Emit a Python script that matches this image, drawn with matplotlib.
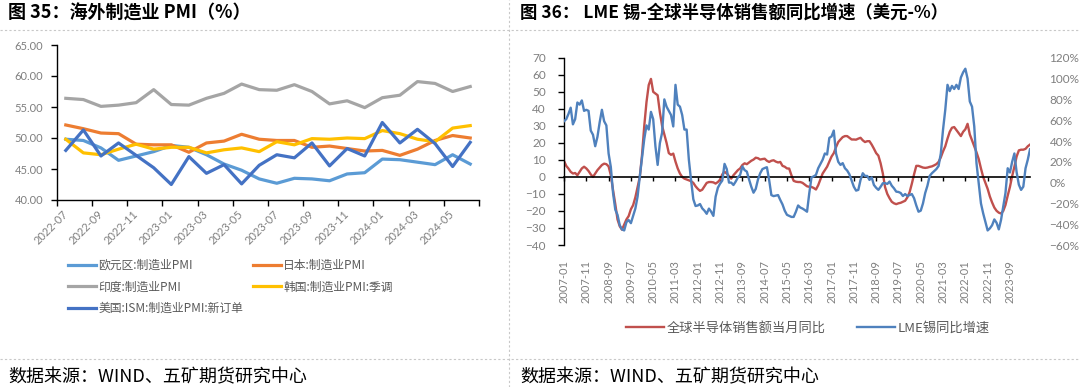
import numpy as np
import pandas as pd
import matplotlib
matplotlib.use("Agg")
import matplotlib.pyplot as plt
from matplotlib.lines import Line2D
from matplotlib.ticker import FormatStrFormatter, PercentFormatter

plt.rcParams['font.family'] = ['Noto Sans CJK SC', 'DejaVu Sans']

# ---- 图35 海外制造业PMI ----
pmi_months = ['2022-07', '2022-08', '2022-09', '2022-10', '2022-11', '2022-12',
              '2023-01', '2023-02', '2023-03', '2023-04', '2023-05', '2023-06',
              '2023-07', '2023-08', '2023-09', '2023-10', '2023-11', '2023-12',
              '2024-01', '2024-02', '2024-03', '2024-04', '2024-05', '2024-06']
euro_pmi = [49.8, 49.6, 48.4, 46.4, 47.1, 47.8, 48.8, 48.5, 47.3, 45.8, 44.8, 43.4,
            42.7, 43.5, 43.4, 43.1, 44.2, 44.4, 46.6, 46.5, 46.1, 45.7, 47.3, 45.8]
japan_pmi = [52.1, 51.5, 50.8, 50.7, 49.0, 48.9, 48.9, 47.7, 49.2, 49.5, 50.6, 49.8,
             49.6, 49.6, 48.5, 48.7, 48.3, 47.9, 48.0, 47.2, 48.2, 49.6, 50.4, 50.0]
india_pmi = [56.4, 56.2, 55.1, 55.3, 55.7, 57.8, 55.4, 55.3, 56.4, 57.2, 58.7, 57.8,
             57.7, 58.6, 57.5, 55.5, 56.0, 54.9, 56.5, 56.9, 59.1, 58.8, 57.5, 58.3]
korea_pmi = [49.8, 47.6, 47.3, 48.2, 49.0, 48.2, 48.5, 48.5, 47.6, 48.1, 48.4, 47.8,
             49.4, 48.9, 49.9, 49.8, 50.0, 49.9, 51.2, 50.7, 49.8, 49.4, 51.6, 52.0]
us_new_orders = [48.0, 51.3, 47.1, 49.2, 47.2, 45.2, 42.5, 47.0, 44.3, 45.7, 42.6, 45.6,
                 47.3, 46.8, 49.2, 45.5, 48.3, 47.1, 52.5, 49.2, 51.4, 49.1, 45.4, 49.3]
pmi_names = ['欧元区:制造业PMI', '日本:制造业PMI', '印度:制造业PMI',
             '韩国:制造业PMI:季调', '美国:ISM:制造业PMI:新订单']
pmi_colors = ['#5B9BD5', '#ED7D31', '#A5A5A5', '#FFC000', '#4472C4']

# ---- 图36 LME锡 vs 全球半导体销售额 ----
# 月度, 2007-01 起
semi_yoy = [
    9.4, 6.5, 4.9, 3.0, 2.0, 2.3, 1.0, 3.0, 5.0, 6.0, 5.0, 3.5,
    1.5, 0.0, 2.0, 4.0, 5.5, 7.0, 7.8, 7.5, 6.2, 1.0, -7.8, -16.0,
    -25.0, -29.0, -31.0, -28.0, -25.0, -23.0, -19.0, -16.6, -12.0, -6.0, 0.0, 13.0,
    30.0, 44.0, 54.0, 57.6, 50.0, 49.0, 48.0, 38.0, 30.0, 25.0, 20.0, 14.0,
    13.0, 13.7, 9.0, 5.0, 2.0, 0.0, -1.0, -1.5, -2.0, -2.5, -3.5, -5.5,
    -7.0, -8.2, -7.5, -5.5, -3.5, -3.0, -3.0, -3.2, -3.9, -3.0, -1.6, 1.5,
    3.0, 2.0, 0.5, -1.0, 1.0, 2.5, 4.0, 5.0, 7.0, 8.0, 7.5, 8.5,
    9.5, 10.2, 11.3, 11.0, 10.2, 10.5, 10.7, 9.5, 8.8, 9.5, 9.8, 9.0,
    8.5, 8.8, 6.5, 6.0, 5.0, 4.9, 1.0, -2.3, -2.8, -3.0, -3.0, -3.5,
    -4.5, -5.5, -5.8, -5.9, -6.5, -7.4, -4.9, -1.5, 2.0, 4.0, 6.0, 9.0,
    12.0, 14.0, 17.5, 20.5, 22.0, 23.4, 24.0, 24.0, 23.0, 22.0, 22.0, 21.9,
    22.5, 23.0, 21.5, 20.5, 21.0, 21.0, 19.0, 16.6, 14.0, 12.5, 8.0, 2.0,
    -6.0, -10.0, -12.5, -14.6, -15.5, -16.0, -15.5, -15.2, -14.6, -14.0, -12.0, -9.0,
    -4.0, 1.5, 6.5, 6.5, 6.0, 5.5, 5.3, 5.5, 5.9, 6.2, 6.8, 7.5,
    8.8, 11.5, 15.0, 18.0, 22.5, 26.5, 28.9, 29.3, 27.5, 25.8, 24.0, 26.5,
    28.0, 31.2, 25.0, 21.5, 18.0, 14.5, 10.5, 5.0, 0.0, -3.5, -7.0, -11.5,
    -15.0, -18.0, -19.9, -21.0, -21.5, -20.0, -16.5, -11.0, -5.9, 0.5, 6.0, 12.0,
    15.6, 16.0, 16.0, 16.5, 18.0, 19.0]
tin_yoy = [
    59, 61, 66, 72, 56, 61, 77, 75, 79, 69, 70, 69,
    50, 46, 35, 44, 58, 70, 59, 55, 28, 15, -10, -26,
    -31, -41, -45, -46, -38, -36, -39, -32, -25, -13.5, 6, 24,
    42, 55, 51, 68, 61, 35, 17, 38, 48, 80, 73, 69,
    65, 54, 94, 75, 73, 65, 51, 51, 22, 2, -16, -22.5,
    -22, -20.6, -24.8, -27, -30, -25, -28, -32, -13.5, -5, -1, 2,
    18, 13, 0, 0, -2.3, 1, 5, 7.5, 15.5, 12, 10.6, 3,
    -4, -9.7, -6, 3, 9, 13, 14, 14.8, 2.6, -12, -13, -12.5,
    -12, -16.7, -21, -27, -31, -32, -33, -33, -28, -22, -24, -25,
    -26.4, -28, -10.3, 5, 6, 7.4, 13.8, 18, 22, 28, 27, 43,
    44.4, 50, 28, 20, 17, 18.7, 13.8, 11.6, 8, 2, -4, -7.7,
    -7, 2.6, 9, 6.4, 6.4, 2.6, 5, -2.3, -5, -7, -4, -0.6,
    -0.5, -1.3, 1, -3, -5.5, -8.7, -9, -10, -12.9, -11, -12.9, -12,
    -11, -15, -22, -28, -27, -20, -10, -3, 6.4, 9, 11, 13,
    16, 28, 51, 70, 94, 88, 93, 90, 94, 90, 101, 106,
    109.5, 100, 78, 73, 54, 18.7, -0.6, -20, -29.6, -37.7, -46, -44,
    -41, -35.4, -38.6, -45, -36, -23, -10, 13.8, 9.7, 20, 28, 10,
    -2, -7, -3.9, 13.8, 22, 32]
chip_months = pd.date_range('2007-01-01', periods=len(semi_yoy), freq='MS').strftime('%Y-%m')
chip_names = ['全球半导体销售额当月同比', 'LME锡同比增速']

W, H = 1080, 387
GRAY = '#7F7F7F'
TXT = '#595959'


def box(x0, y0, x1, y1):
    # pixel box (top-left origin) -> figure rect
    return [x0 / W, 1 - y1 / H, (x1 - x0) / W, (y1 - y0) / H]


fig = plt.figure(figsize=(W / 100, H / 100), dpi=100)

# ---------------- left chart ----------------
ax1 = fig.add_axes(box(57, 45, 479, 200))
x = np.arange(len(pmi_months))
for vals, name, color in zip([euro_pmi, japan_pmi, india_pmi, korea_pmi, us_new_orders],
                             pmi_names, pmi_colors):
    ax1.plot(x, vals, color=color, lw=2.3, label=name, solid_joinstyle='round')
ax1.set_xlim(-0.5, len(x) - 0.5)
ax1.set_ylim(40, 65)
ax1.set_yticks(np.arange(40, 66, 5))
ax1.yaxis.set_major_formatter(FormatStrFormatter('%.2f'))
for s in ['top', 'right']:
    ax1.spines[s].set_visible(False)
for s in ['left', 'bottom']:
    ax1.spines[s].set_color('black')
    ax1.spines[s].set_linewidth(1.0)
ax1.set_xticks(np.arange(-0.5, len(x), 2))
ax1.set_xticks(x[::2], labels=pmi_months[::2], minor=True, rotation=45,
               ha='right', va='center', rotation_mode='anchor')
ax1.tick_params(axis='x', which='major', length=4, width=1, labelbottom=False)
ax1.tick_params(axis='x', which='minor', length=0, pad=9, labelsize=8, labelcolor=GRAY)
ax1.tick_params(axis='y', length=4, width=1, pad=6, labelsize=8, labelcolor=GRAY)
for lab in ax1.get_yticklabels():
    lab.set_family(['Lato', 'DejaVu Sans'])
for lab in ax1.get_xticklabels(minor=True):
    lab.set_family(['Lato', 'DejaVu Sans'])

h = ax1.get_lines()
leg_kw = dict(frameon=False, fontsize=8.5, handlelength=2.4, handletextpad=0.15,
              borderpad=0, borderaxespad=0, labelspacing=0.72, labelcolor=TXT, loc='upper left')
fig.legend([h[0], h[2], h[4]], [pmi_names[0], pmi_names[2], pmi_names[4]],
           bbox_to_anchor=(68 / W, 1 - 259 / H), **leg_kw)
fig.legend([h[1], h[3]], [pmi_names[1], pmi_names[3]],
           bbox_to_anchor=(253 / W, 1 - 259 / H), **leg_kw)

# ---------------- right chart ----------------
ax2 = fig.add_axes(box(564, 57.8, 1030, 245))
m = np.arange(len(semi_yoy))
l1, = ax2.plot(m, semi_yoy, color='#C0504D', lw=1.7, solid_joinstyle='round')
ax2.set_xlim(0, len(m) - 1)
ax2.set_ylim(-40, 70)
ax2.set_yticks(np.arange(-40, 71, 10))
for s in ['top', 'right']:
    ax2.spines[s].set_visible(False)
ax2.spines['bottom'].set_position(('data', 0))
ax2.spines['bottom'].set_linewidth(1.2)
ax2.spines['left'].set_linewidth(1.0)
ticks = m[::10]
ax2.set_xticks(ticks)
ax2.tick_params(axis='x', length=3, width=1, labelbottom=False)
ax2.tick_params(axis='y', length=4, width=1, pad=9, labelsize=8.5, labelcolor=GRAY)
sec = ax2.secondary_xaxis('bottom')
sec.set_xticks(ticks, labels=[chip_months[i] for i in ticks], rotation=90)
sec.tick_params(length=0, pad=11, labelsize=8, labelcolor=GRAY)
sec.spines['bottom'].set_visible(False)
for lab in ax2.get_yticklabels() + sec.get_xticklabels():
    lab.set_family(['Lato', 'DejaVu Sans'])

ax3 = ax2.twinx()
l2, = ax3.plot(m, tin_yoy, color='#4F81BD', lw=1.7, solid_joinstyle='round')
ax3.set_ylim(-60, 120)
ax3.set_yticks(np.arange(-60, 121, 20))
ax3.yaxis.set_major_formatter(PercentFormatter(decimals=0))
for s in ax3.spines.values():
    s.set_visible(False)
ax3.tick_params(axis='y', length=0, pad=14, labelsize=8.5, labelcolor=GRAY)
for lab in ax3.get_yticklabels():
    lab.set_family(['Lato', 'DejaVu Sans'])

leg_kw2 = dict(leg_kw, fontsize=9.5, handlelength=2.9)
fig.legend([l1], [chip_names[0]], bbox_to_anchor=(626 / W, 1 - 322 / H), **leg_kw2)
fig.legend([l2], [chip_names[1]], bbox_to_anchor=(857 / W, 1 - 322 / H), **leg_kw2)

# ---------------- titles, sources, separators ----------------
fig.text(8 / W, 1 - 13 / H, '图 35：海外制造业 PMI（%）', fontsize=13, weight='bold',
         va='center', color='black')
fig.text(520 / W, 1 - 13 / H, '图 36： LME 锡-全球半导体销售额同比增速（美元-%）', fontsize=12.5,
         weight='bold', va='center', color='black')
fig.text(8 / W, 1 - 377 / H, '数据来源：WIND、五矿期货研究中心', fontsize=13, va='center', color='black')
fig.text(520 / W, 1 - 377 / H, '数据来源：WIND、五矿期货研究中心', fontsize=13, va='center', color='black')

sep = dict(transform=fig.transFigure, color='#C8C8C8', lw=0.8, ls=(0, (2, 2)))
fig.add_artist(Line2D([0, 1], [1 - 30 / H] * 2, **sep))
fig.add_artist(Line2D([0, 1], [1 - 359 / H] * 2, **sep))
fig.add_artist(Line2D([509 / W] * 2, [0, 1], **sep))

fig.savefig('out.png', dpi=100)
